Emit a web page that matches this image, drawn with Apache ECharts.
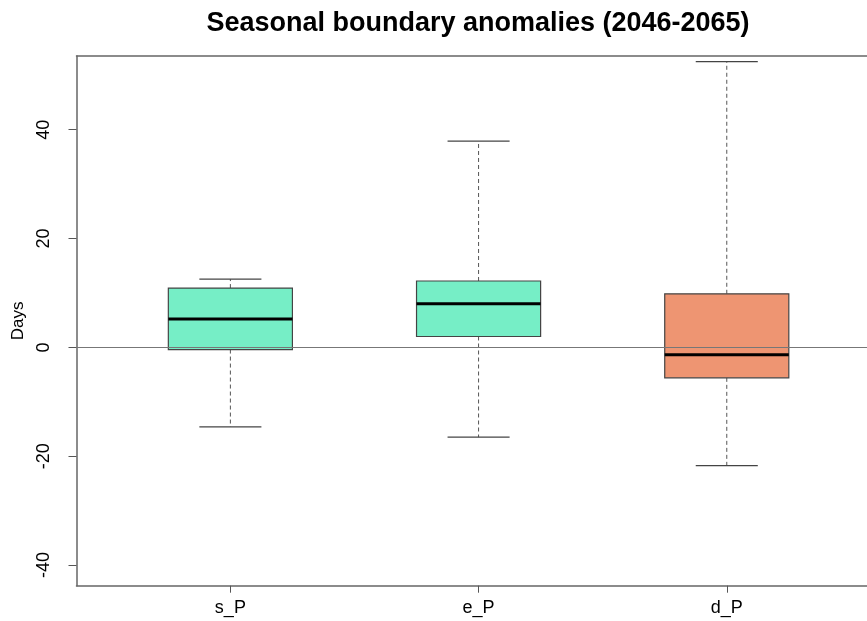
<!DOCTYPE html>
<html>
<head>
<meta charset="utf-8">
<script src="https://cdn.jsdelivr.net/npm/echarts@6/dist/echarts.min.js"></script>
<style>
html,body{margin:0;padding:0;background:#fff;}
#chart{width:867px;height:621px;}
</style>
</head>
<body>
<div id="chart"></div>
<script>
const categories = ['s_P', 'e_P', 'd_P'];
const positions = [1, 2, 3];
const whiskerLow = [-14.6, -16.5, -21.75];
const q1 = [-0.4, 2.0, -5.6];
const median = [5.2, 8.0, -1.35];
const q3 = [10.9, 12.2, 9.85];
const whiskerHigh = [12.55, 37.9, 52.5];
const boxColors = ['#76EEC6', '#76EEC6', '#EE9572'];
const yTicks = [-40, -20, 0, 20, 40];

const boxData = positions.map((p, i) => [p, whiskerLow[i], q1[i], median[i], q3[i], whiskerHigh[i], i]);

const font = '"Liberation Sans", Arial, Helvetica, sans-serif';
const chart = echarts.init(document.getElementById('chart'), null, {renderer: 'canvas'});

function renderBox(params, api) {
  const x = api.value(0);
  const idx = api.value(6);
  const pMin = api.coord([x, api.value(1)]);
  const pQ1 = api.coord([x, api.value(2)]);
  const pMed = api.coord([x, api.value(3)]);
  const pQ3 = api.coord([x, api.value(4)]);
  const pMax = api.coord([x, api.value(5)]);
  const boxHalf = api.size([0.25, 0])[0];
  const capHalf = api.size([0.125, 0])[0];
  const cx = pMed[0];
  const dashStyle = {stroke: '#555', lineWidth: 1, lineDash: [4, 3]};
  const solid = {stroke: '#444', lineWidth: 1.2};
  return {
    type: 'group',
    children: [
      {type: 'line', shape: {x1: cx, y1: pQ3[1], x2: cx, y2: pMax[1]}, style: dashStyle},
      {type: 'line', shape: {x1: cx, y1: pQ1[1], x2: cx, y2: pMin[1]}, style: dashStyle},
      {type: 'line', shape: {x1: cx - capHalf, y1: pMax[1], x2: cx + capHalf, y2: pMax[1]}, style: solid},
      {type: 'line', shape: {x1: cx - capHalf, y1: pMin[1], x2: cx + capHalf, y2: pMin[1]}, style: solid},
      {type: 'rect', shape: {x: cx - boxHalf, y: pQ3[1], width: boxHalf * 2, height: pQ1[1] - pQ3[1]},
        style: {fill: boxColors[idx], stroke: '#444', lineWidth: 1.2}},
      {type: 'line', shape: {x1: cx - boxHalf, y1: pMed[1], x2: cx + boxHalf, y2: pMed[1]},
        style: {stroke: '#000', lineWidth: 3}}
    ]
  };
}

const frameLine = {show: true, onZero: false, lineStyle: {color: '#666', width: 1.5}};

chart.setOption({
  animation: false,
  backgroundColor: '#fff',
  title: {
    text: 'Seasonal boundary anomalies (2046-2065)',
    left: 473,
    textAlign: 'center',
    top: 5,
    textStyle: {fontFamily: font, fontSize: 27, fontWeight: 'bold', color: '#000'}
  },
  grid: {
    left: 76.5,
    top: 56,
    right: 0,
    height: 529.7,
    show: false,
    containLabel: false
  },
  xAxis: [
    {
      type: 'value',
      position: 'bottom',
      min: 0.38,
      max: 3.565,
      splitLine: {show: false},
      axisLine: frameLine,
      axisTick: {show: true, customValues: positions, length: 7, lineStyle: {color: '#555', width: 1}},
      axisLabel: {
        customValues: positions,
        formatter: v => categories[positions.indexOf(v)] || '',
        fontFamily: font, fontSize: 18, color: '#000', margin: 13
      }
    },
    {
      type: 'value',
      position: 'top',
      min: 0.38,
      max: 3.565,
      splitLine: {show: false},
      axisLine: frameLine,
      axisTick: {show: false},
      axisLabel: {show: false}
    }
  ],
  yAxis: {
    type: 'value',
    min: -43.8,
    max: 53.55,
    name: 'Days',
    nameLocation: 'middle',
    nameRotate: 90,
    nameGap: 50,
    nameTextStyle: {fontFamily: font, fontSize: 17, color: '#000'},
    splitLine: {show: false},
    axisLine: frameLine,
    axisTick: {show: true, customValues: yTicks, length: 8, lineStyle: {color: '#555', width: 1}},
    axisLabel: {
      customValues: yTicks,
      rotate: 90,
      fontFamily: font, fontSize: 18, color: '#000', margin: 23
    }
  },
  series: [
    {
      type: 'custom',
      renderItem: renderBox,
      data: boxData,
      encode: {x: 0, y: [1, 2, 3, 4, 5]},
      clip: true,
      z: 2
    },
    {
      type: 'line',
      data: [],
      z: 5,
      markLine: {
        silent: true,
        symbol: 'none',
        label: {show: false},
        lineStyle: {color: '#777', width: 1.2, type: 'solid'},
        data: [{yAxis: 0}]
      }
    }
  ]
});
</script>
</body>
</html>
